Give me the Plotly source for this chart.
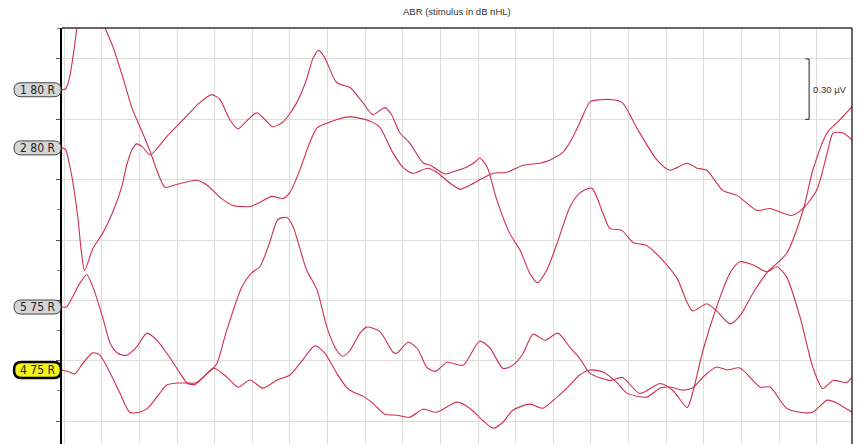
import plotly.graph_objects as go

# ---- data (time in ms, amplitude in µV relative to each trace baseline) ----
t1 = [-0.03, 0.02, 0.07, 0.13, 0.17, 0.23, 0.34, 0.43, 0.54, 0.65, 0.78, 0.90, 1.03, 1.14, 1.23, 1.34,
      1.50, 1.76, 1.90, 2.07, 2.24, 2.47, 2.60, 2.76, 2.91, 3.00, 3.13, 3.26, 3.36, 3.53, 3.80, 4.06,
      4.19, 4.37, 4.50, 4.63, 4.83, 4.95, 5.13, 5.26, 5.39, 5.56, 5.70, 5.88, 6.10, 6.32, 6.45, 6.63,
      6.76, 6.85, 6.99, 7.12, 7.29, 7.42, 7.61, 7.88, 8.05, 8.28, 8.41, 8.54, 8.75, 8.94, 9.21, 9.38,
      9.67, 9.82, 10.00, 10.14, 10.22, 10.35, 10.47]
a1 = [0.0, 0.005, 0.06, 0.20, 0.31, 0.425, 0.50, 0.425, 0.31, 0.21, 0.06, -0.09, -0.205, -0.305, -0.40, -0.485,
      -0.47, -0.45, -0.475, -0.535, -0.575, -0.58, -0.56, -0.53, -0.54, -0.51, -0.40, -0.265, -0.19, -0.16, -0.135, -0.155,
      -0.185, -0.315, -0.385, -0.415, -0.39, -0.41, -0.465, -0.495, -0.475, -0.44, -0.415, -0.41, -0.375, -0.365, -0.35, -0.31,
      -0.235, -0.165, -0.06, -0.05, -0.05, -0.065, -0.19, -0.35, -0.40, -0.365, -0.39, -0.40, -0.50, -0.525, -0.60, -0.59,
      -0.625, -0.59, -0.50, -0.315, -0.215, -0.215, -0.25]

t2 = [-0.03, 0.02, 0.07, 0.11, 0.18, 0.23, 0.27, 0.38, 0.51, 0.67, 0.77, 0.83, 0.90, 0.96, 1.04, 1.14,
      1.24, 1.36, 1.58, 1.80, 1.96, 2.07, 2.20, 2.31, 2.44, 2.56, 2.67, 2.77, 2.91, 3.09, 3.22, 3.30,
      3.38, 3.46, 3.62, 3.80, 3.86, 3.97, 4.10, 4.26, 4.35, 4.46, 4.59, 4.77, 4.86, 5.06, 5.16, 5.35,
      5.46, 5.52, 5.62, 5.75, 5.92, 6.06, 6.19, 6.29, 6.41, 6.55, 6.72, 6.85, 7.01, 7.16, 7.25, 7.41,
      7.56, 7.74, 7.92, 8.14, 8.35, 8.54, 8.67, 8.85, 8.98, 9.15, 9.34, 9.60, 9.82, 9.95, 10.14, 10.31,
      10.47]
a2 = [0.0, -0.01, -0.085, -0.16, -0.345, -0.525, -0.61, -0.50, -0.425, -0.295, -0.185, -0.085, -0.01, 0.02, 0.005, -0.035,
      0.0, 0.055, 0.14, 0.225, 0.265, 0.24, 0.14, 0.095, 0.14, 0.175, 0.14, 0.105, 0.13, 0.225, 0.34, 0.44,
      0.485, 0.45, 0.325, 0.30, 0.275, 0.225, 0.165, 0.20, 0.165, 0.075, 0.025, -0.075, -0.085, -0.13, -0.12, -0.095,
      -0.07, -0.05, -0.095, -0.26, -0.425, -0.51, -0.625, -0.67, -0.61, -0.475, -0.295, -0.225, -0.20, -0.325, -0.40, -0.41,
      -0.47, -0.485, -0.545, -0.645, -0.81, -0.775, -0.81, -0.875, -0.835, -0.725, -0.62, -0.525, -0.31, -0.11, 0.075, 0.14,
      0.205]

t5 = [-0.03, 0.03, 0.11, 0.21, 0.30, 0.38, 0.51, 0.61, 0.71, 0.83, 0.96, 1.10, 1.23, 1.40, 1.54, 1.64,
      1.74, 1.84, 1.98, 2.03, 2.16, 2.36, 2.49, 2.60, 2.73, 2.84, 2.96, 3.04, 3.22, 3.36, 3.49, 3.62,
      3.70, 3.80, 3.93, 4.02, 4.19, 4.37, 4.42, 4.57, 4.69, 4.82, 4.93, 5.09, 5.30, 5.52, 5.66, 5.83,
      5.96, 6.10, 6.23, 6.39, 6.56, 6.72, 6.85, 6.99, 7.25, 7.42, 7.65, 7.92, 8.09, 8.28, 8.35, 8.49,
      8.67, 8.85, 8.98, 9.15, 9.34, 9.47, 9.60, 9.78, 9.95, 10.08, 10.22, 10.40, 10.47]
a5 = [0.0, 0.0, 0.05, 0.12, 0.16, 0.10, -0.05, -0.18, -0.23, -0.24, -0.20, -0.13, -0.165, -0.25, -0.33, -0.38,
      -0.385, -0.35, -0.305, -0.28, -0.115, 0.10, 0.17, 0.20, 0.32, 0.435, 0.445, 0.40, 0.185, 0.085, -0.10, -0.215,
      -0.245, -0.215, -0.13, -0.10, -0.12, -0.225, -0.23, -0.175, -0.205, -0.30, -0.32, -0.275, -0.29, -0.17, -0.205, -0.305,
      -0.29, -0.23, -0.135, -0.165, -0.13, -0.20, -0.255, -0.33, -0.365, -0.35, -0.43, -0.38, -0.415, -0.50, -0.43, -0.215,
      0.0, 0.17, 0.225, 0.21, 0.175, 0.20, 0.15, -0.05, -0.30, -0.405, -0.365, -0.375, -0.35]

t4 = [-0.03, 0.07, 0.14, 0.25, 0.38, 0.47, 0.61, 0.74, 0.87, 1.00, 1.11, 1.27, 1.36, 1.50, 1.64, 1.74,
      1.84, 1.98, 2.16, 2.31, 2.47, 2.64, 2.83, 3.00, 3.17, 3.33, 3.46, 3.62, 3.76, 3.84, 3.97, 4.10,
      4.26, 4.42, 4.59, 4.77, 4.95, 5.22, 5.39, 5.56, 5.70, 5.83, 5.96, 6.19, 6.36, 6.55, 6.72, 6.85,
      6.99, 7.16, 7.34, 7.48, 7.74, 7.92, 8.05, 8.22, 8.35, 8.49, 8.67, 8.81, 8.98, 9.25, 9.38, 9.60,
      9.78, 9.95, 10.14, 10.27, 10.47]
a4 = [0.0, -0.01, -0.02, 0.035, 0.085, 0.075, -0.015, -0.115, -0.21, -0.21, -0.19, -0.115, -0.075, -0.065, -0.065, -0.065,
      -0.04, 0.01, -0.035, -0.085, -0.05, -0.09, -0.05, -0.025, 0.05, 0.12, 0.085, -0.015, -0.09, -0.11, -0.13, -0.165,
      -0.22, -0.225, -0.235, -0.195, -0.21, -0.16, -0.19, -0.25, -0.29, -0.26, -0.20, -0.17, -0.19, -0.135, -0.075, -0.025,
      0.0, -0.01, -0.06, -0.115, -0.135, -0.09, -0.085, -0.10, -0.09, -0.035, 0.015, 0.0, 0.01, -0.085, -0.085, -0.19,
      -0.21, -0.21, -0.15, -0.165, -0.21]

trace_labels = ["1 80 R", "2 80 R", "5 75 R", "4 75 R"]
trace_offsets = [1.647, 1.358, 0.567, 0.254]   # baseline of each trace (µV)
selected_label = "4 75 R"
scale_bar_uV = 0.30

times = [t1, t2, t5, t4]
amps = [a1, a2, a5, a4]

# ---- figure ----
X_RANGE = [-0.03, 10.47]
Y_RANGE = [-0.114, 1.954]
LINE_COLOR = "#cf2f4b"

fig = go.Figure()
for tt, aa, off in zip(times, amps, trace_offsets):
    fig.add_trace(go.Scatter(
        x=tt, y=[off + v for v in aa], mode="lines",
        line=dict(color=LINE_COLOR, width=1.1, shape="spline", smoothing=0.7),
        hoverinfo="skip", showlegend=False))

shapes = []
annotations = []

# plot frame: top and right border
shapes.append(dict(type="line", xref="paper", yref="paper", x0=0, x1=1, y0=1, y1=1,
                   line=dict(color="#333333", width=1.5)))
shapes.append(dict(type="line", xref="paper", yref="paper", x0=1, x1=1, y0=0, y1=1,
                   line=dict(color="#333333", width=1.5)))

# trace label badges
for lab, off in zip(trace_labels, trace_offsets):
    py = (off - Y_RANGE[0]) / (Y_RANGE[1] - Y_RANGE[0])
    sel = lab == selected_label
    h = 8 if sel else 7
    path = (f"M -41,{-h} L -8,{-h} Q -1,{-h} -1,0 Q -1,{h} -8,{h} L -41,{h} "
            f"Q -48,{h} -48,0 Q -48,{-h} -41,{-h} Z")
    shapes.append(dict(type="path", xref="paper", yref="paper",
                       xsizemode="pixel", ysizemode="pixel", xanchor=0, yanchor=py,
                       path=path,
                       fillcolor="#f4f41c" if sel else "#d6d6d6",
                       line=dict(color="#000000" if sel else "#444444", width=2.5 if sel else 1)))
    annotations.append(dict(xref="paper", yref="paper", x=0, y=py, xshift=-24.5,
                            text=lab.replace(" ", "&nbsp;", 1), showarrow=False,
                            xanchor="center", yanchor="middle",
                            font=dict(family="DejaVu Sans Condensed, Liberation Sans Narrow, sans-serif",
                                      size=12, color="#222222")))

# amplitude scale bar
sb_x = 9.90
sb_top = 1.8
sb_bot = sb_top - scale_bar_uV
shapes.append(dict(type="line", xref="x", yref="y", x0=sb_x, x1=sb_x, y0=sb_bot, y1=sb_top,
                   line=dict(color="#222222", width=1)))
for yy in (sb_bot, sb_top):
    shapes.append(dict(type="line", xref="x", yref="y", x0=sb_x - 0.05, x1=sb_x, y0=yy, y1=yy,
                       line=dict(color="#222222", width=1)))
annotations.append(dict(xref="x", yref="y", x=sb_x + 0.03, y=(sb_top + sb_bot) / 2,
                        text=f"{scale_bar_uV:.2f} µV", showarrow=False, xanchor="left", yanchor="middle",
                        font=dict(family="Liberation Sans, Arial, sans-serif", size=9.5, color="#333333")))

# title
annotations.append(dict(xref="paper", yref="paper", x=0.5, y=1.0385,
                        text="ABR (stimulus in dB nHL)", showarrow=False,
                        xanchor="center", yanchor="middle",
                        font=dict(family="Liberation Sans, Arial, sans-serif", size=9.5, color="#333333")))

fig.update_layout(
    width=859, height=444,
    margin=dict(l=62, r=7, t=28, b=0),
    paper_bgcolor="white", plot_bgcolor="white",
    shapes=shapes, annotations=annotations,
    showlegend=False,
)
fig.update_xaxes(range=X_RANGE, showgrid=True, gridcolor="#dddddd", gridwidth=1,
                 tick0=0, dtick=0.5, showticklabels=False, ticks="", zeroline=False,
                 showline=False, fixedrange=True)
fig.update_yaxes(range=Y_RANGE, showgrid=True, gridcolor="#dddddd", gridwidth=1,
                 tick0=0, dtick=0.3, showticklabels=False, ticks="outside", ticklen=4,
                 tickcolor="#555555", zeroline=False,
                 showline=True, linecolor="#000000", linewidth=2, fixedrange=True,
                 minor=dict(tick0=0, dtick=0.15, ticks="outside", ticklen=3, tickcolor="#777777"))

fig.write_html("out.html", config={"displayModeBar": False},
               post_script="document.body.style.margin='0';document.body.style.overflow='hidden';")
